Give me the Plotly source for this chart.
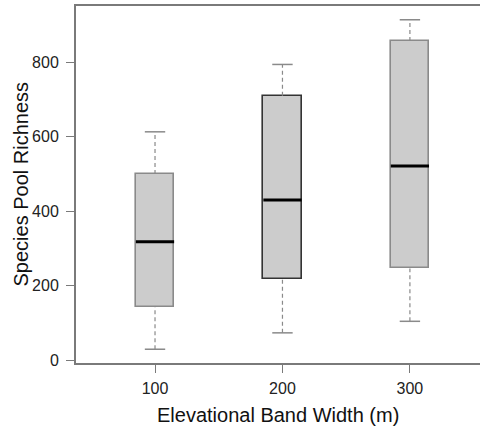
import plotly.graph_objects as go

categories = ["100", "200", "300"]
positions = [1, 2, 3]
q1 = [143, 217, 246]
median = [318, 430, 521]
q3 = [500, 710, 857]
lower_whisker = [29, 73, 104]
upper_whisker = [613, 794, 914]
box_edge = ["#8a8a8a", "#333333", "#8a8a8a"]
y_ticks = [0, 200, 400, 600, 800]

box_w = 0.3
cap_w = 0.16

fig = go.Figure()

# whiskers (dashed) and caps
for i, x in enumerate(positions):
    fig.add_trace(go.Scatter(x=[x, x], y=[q3[i], upper_whisker[i]], mode="lines",
                             line=dict(color="#8a8a8a", width=1.2, dash="4px,3px"),
                             showlegend=False, hoverinfo="skip"))
    fig.add_trace(go.Scatter(x=[x, x], y=[lower_whisker[i], q1[i]], mode="lines",
                             line=dict(color="#8a8a8a", width=1.2, dash="4px,3px"),
                             showlegend=False, hoverinfo="skip"))
    for v in (lower_whisker[i], upper_whisker[i]):
        fig.add_trace(go.Scatter(x=[x - cap_w / 2, x + cap_w / 2], y=[v, v], mode="lines",
                                 line=dict(color="#8a8a8a", width=1.5),
                                 showlegend=False, hoverinfo="skip"))

# boxes
fig.add_trace(go.Bar(x=positions, base=q1, y=[b - a for a, b in zip(q1, q3)],
                     width=box_w, marker=dict(color="#cccccc",
                                              line=dict(color=box_edge, width=1.6)),
                     showlegend=False, hoverinfo="skip"))

# medians
for i, x in enumerate(positions):
    fig.add_trace(go.Scatter(x=[x - box_w / 2, x + box_w / 2], y=[median[i], median[i]],
                             mode="lines", line=dict(color="black", width=3),
                             showlegend=False, hoverinfo="skip"))

fig.update_layout(
    width=480, height=430,
    margin=dict(l=76, r=0, t=6, b=67, autoexpand=False),
    paper_bgcolor="white", plot_bgcolor="white",
    font=dict(family="Liberation Sans, Arial, sans-serif", color="#222222"),
    xaxis=dict(range=[0.38, 3.55], tickmode="array", tickvals=positions, ticktext=categories,
               showgrid=False, zeroline=False, showline=True, mirror=True,
               linecolor="#7a7a7a", linewidth=2,
               ticks="outside", ticklen=8, tickcolor="#7a7a7a", tickwidth=1.2,
               tickfont=dict(size=16), ticklabelstandoff=2, automargin=False),
    yaxis=dict(range=[-8, 951], tickmode="array", tickvals=y_ticks,
               showgrid=False, zeroline=False, showline=True,
               linecolor="#7a7a7a", linewidth=2,
               ticks="outside", ticklen=8, tickcolor="#7a7a7a", tickwidth=1.2,
               tickfont=dict(size=16), ticklabelstandoff=4, automargin=False),
    bargap=0,
    annotations=[
        dict(text="Elevational Band Width (m)", xref="paper", yref="paper", x=0.5,
             y=0, yshift=-52, xanchor="center", yanchor="middle", showarrow=False,
             font=dict(size=20, color="#111111")),
        dict(text="Species Pool Richness", xref="paper", yref="paper", x=0, xshift=-56,
             y=0.5, xanchor="center", yanchor="middle", textangle=-90, showarrow=False,
             font=dict(size=20, color="#111111")),
    ],
)

fig.write_html("out.html", config={"displayModeBar": False},
               post_script="document.documentElement.style.overflow='hidden';"
                           "document.body.style.overflow='hidden';"
                           "document.body.style.margin='0';document.body.style.padding='0';")
